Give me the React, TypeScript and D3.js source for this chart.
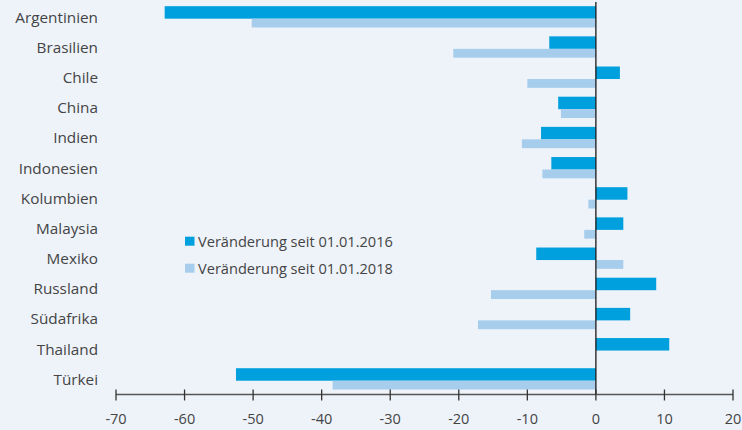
import React from "react";
import * as d3 from "d3";

const categories = ["Argentinien","Brasilien","Chile","China","Indien","Indonesien","Kolumbien","Malaysia","Mexiko","Russland","Südafrika","Thailand","Türkei"];
const since2016 = [-62.9,-6.8,3.5,-5.5,-8.0,-6.5,4.6,4.0,-8.7,8.8,5.0,10.7,-52.5];
const since2018 = [-50.2,-20.8,-10.0,-5.1,-10.8,-7.8,-1.1,-1.7,4.0,-15.3,-17.2,0,-38.4];
const xTicks = [-70,-60,-50,-40,-30,-20,-10,0,10,20];
const seriesNames = ["Veränderung seit 01.01.2016","Veränderung seit 01.01.2018"];

const W = 742, H = 430;
const C1 = "#009FDD", C2 = "#A6CDEC";
const FONT = "'Open Sans', sans-serif";

export default function App() {
  const x = d3.scaleLinear().domain([-70, 20]).range([116, 733]);
  const y = d3.scaleBand().domain(categories).range([3.6, 395.8]).padding(0);
  const axisY = 394.5;
  return (
    <svg width={W} height={H} style={{ position: "absolute", left: 0, top: 0, display: "block" }} fontFamily={FONT}>
      <rect x={0} y={0} width={W} height={H} fill="#EEF3FA" />
      {categories.map((c, i) => {
        const cy = (y(c) as number) + y.bandwidth() / 2;
        const v1 = since2016[i], v2 = since2018[i];
        return (
          <g key={c}>
            <rect x={x(Math.min(0, v1))} y={cy - 12.5} width={Math.abs(x(v1) - x(0))} height={12.5} fill={C1} />
            <rect x={x(Math.min(0, v2))} y={cy} width={Math.abs(x(v2) - x(0))} height={8.8} fill={C2} />
            <text x={98} y={cy + 4} textAnchor="end" fontSize={15.3} fill="#444">{c}</text>
          </g>
        );
      })}
      <line x1={x(0)} x2={x(0)} y1={2} y2={axisY} stroke="#1a1a1a" strokeWidth={1.3} />
      <line x1={x(-70)} x2={x(20)} y1={axisY} y2={axisY} stroke="#555" strokeWidth={1.3} />
      {xTicks.map(t => (
        <g key={t}>
          <line x1={x(t)} x2={x(t)} y1={389.5} y2={400.5} stroke="#333" strokeWidth={1.3} />
          <text x={x(t)} y={424} textAnchor="middle" fontSize={14.5} fill="#444">{t}</text>
        </g>
      ))}
      {seriesNames.map((s, i) => (
        <g key={s}>
          <rect x={185} y={236.7 + i * 27} width={9.5} height={9} fill={i === 0 ? C1 : C2} />
          <text x={198} y={246.5 + i * 27} fontSize={14.6} fill="#444">{s}</text>
        </g>
      ))}
    </svg>
  );
}
